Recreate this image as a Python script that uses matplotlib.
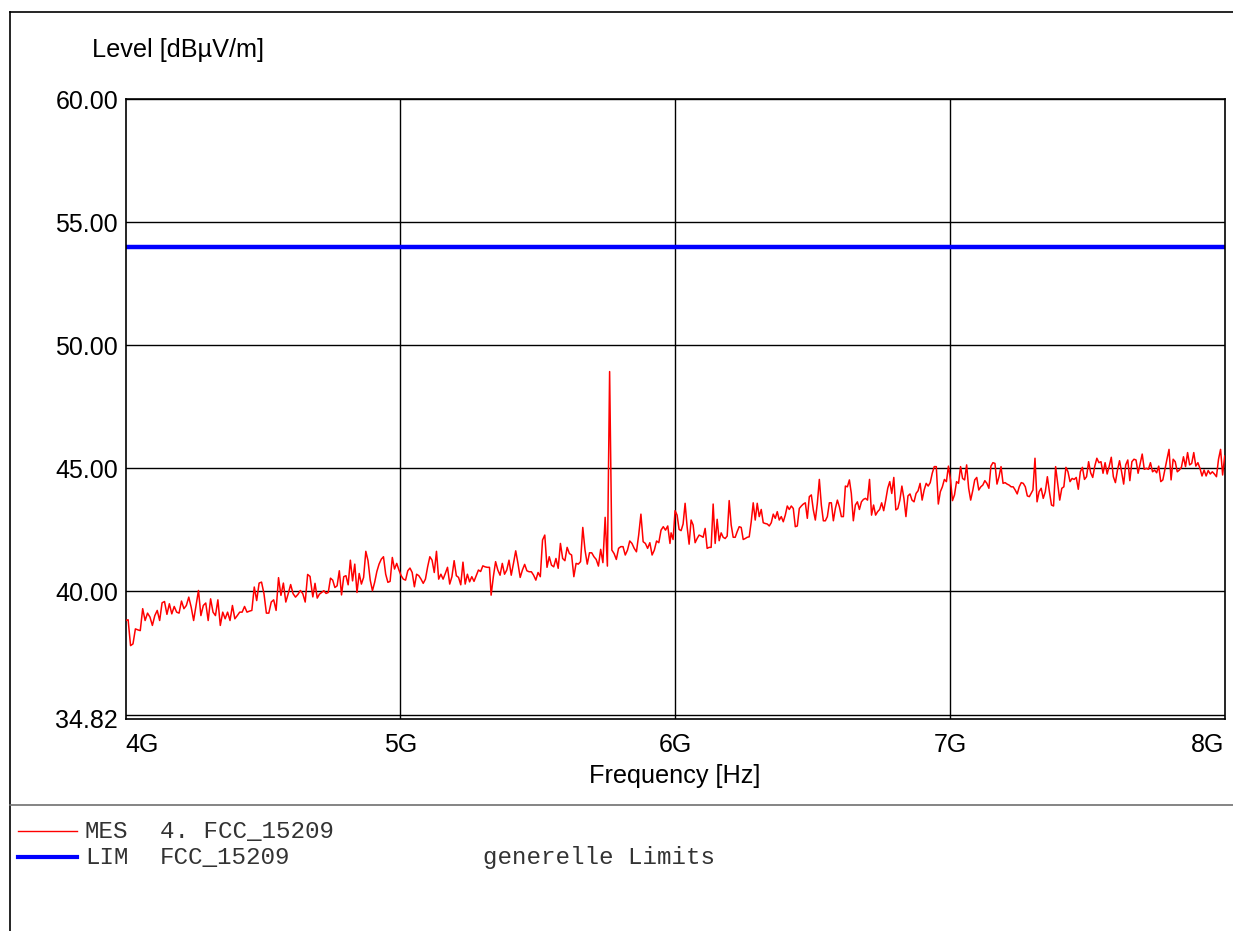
import numpy as np
import matplotlib
matplotlib.use('Agg')
import matplotlib.pyplot as plt
from matplotlib.lines import Line2D

band_start = [4.000, 4.673, 5.330, 5.985, 6.641, 7.302]  # GHz
band_stop = [4.671, 5.324, 5.981, 6.634, 7.289, 8.000]

mes_1 = [38.82, 38.85, 37.80, 37.87, 38.48, 38.44, 38.41, 39.30, 38.82, 39.12, 38.96, 38.62, 39.02, 39.23,
         38.82, 39.54, 39.59, 39.07, 39.50, 39.09, 39.39, 39.16, 39.12, 39.61, 39.30, 39.43, 39.77, 39.36,
         38.82, 39.43, 40.04, 39.02, 39.43, 39.53, 38.82, 39.70, 39.16, 39.02, 39.66, 38.62, 39.16, 38.89,
         39.16, 38.82, 39.43, 38.89, 39.02, 39.16, 39.16, 39.39, 39.16, 39.20, 39.23, 40.18, 39.63, 40.34,
         40.38, 39.91, 39.12, 39.12, 39.57, 39.66, 39.23, 40.56, 39.84, 40.34, 39.57, 39.91, 40.28, 39.91,
         39.77, 39.88, 40.04, 39.91, 39.57, 40.69, 40.61]
mes_2 = [40.43, 39.78, 40.33, 39.73, 39.89, 39.96, 40.03, 39.92, 39.96, 40.54, 40.46, 40.16, 40.23, 40.84,
         39.86, 40.60, 40.64, 40.27, 41.27, 40.43, 41.11, 39.96, 40.73, 40.30, 40.57, 41.63, 41.25, 40.46,
         40.03, 40.37, 40.81, 41.11, 41.31, 41.41, 40.70, 40.37, 40.41, 41.38, 40.91, 41.14, 40.87, 40.64,
         40.50, 40.46, 40.84, 40.95, 40.77, 40.19, 40.70, 40.64, 40.50, 40.33, 40.50, 41.00, 41.41, 41.27,
         40.77, 41.63, 40.50, 40.70, 40.50, 40.73, 40.98, 40.30, 40.60, 41.25, 40.64, 40.57, 40.27, 41.19,
         40.30, 40.70, 40.39, 40.60, 40.41, 40.64, 40.87, 40.81, 41.04, 41.00, 40.98, 40.98]
mes_3 = [39.85, 40.60, 41.21, 40.87, 40.66, 41.14, 40.70, 40.87, 41.27, 40.66, 41.14, 41.65, 41.14, 40.57,
         40.87, 41.10, 40.84, 40.80, 40.80, 40.66, 40.46, 40.77, 40.60, 42.09, 42.29, 40.98, 41.41, 41.07,
         41.00, 41.34, 40.94, 41.95, 41.34, 41.25, 41.79, 41.54, 41.48, 40.60, 41.14, 41.11, 41.21, 42.60,
         41.68, 41.11, 41.57, 41.57, 41.41, 41.30, 41.03, 41.71, 41.17, 43.01, 41.03, 48.93, 41.68, 41.54,
         41.30, 41.75, 41.82, 41.82, 41.48, 41.68, 42.05, 41.95, 41.75, 41.61, 42.29, 43.14, 42.02, 41.95,
         41.75, 41.98, 41.48, 41.68, 42.05, 41.98, 42.49, 42.63, 42.49, 42.66, 41.95]
mes_4 = [42.38, 42.11, 43.28, 43.10, 42.52, 42.47, 42.74, 43.58, 42.63, 41.92, 42.90, 42.70, 41.98, 42.15,
         42.29, 42.25, 42.20, 42.56, 41.75, 41.79, 41.79, 43.55, 41.95, 42.93, 42.06, 42.38, 42.20, 42.15,
         42.25, 43.69, 42.70, 42.20, 42.20, 42.43, 42.63, 42.60, 42.11, 42.15, 42.20, 42.22, 42.83, 43.60,
         42.90, 43.58, 43.04, 43.33, 42.79, 42.76, 42.74, 42.66, 42.79, 43.14, 42.97, 43.24, 42.90, 43.04,
         42.83, 43.10, 43.47, 43.33, 43.47, 43.37, 42.63, 42.66, 43.37, 43.47, 43.55, 43.60, 42.97, 43.85,
         43.92, 43.31, 42.90, 43.58, 44.55, 43.51, 42.87, 42.87, 43.04, 43.60, 43.60, 42.87, 43.37, 43.71,
         43.44, 43.04, 43.04, 44.28, 44.25, 44.53]
mes_5 = [43.98, 42.87, 43.51, 43.64, 43.33, 43.64, 43.74, 43.78, 43.71, 44.55, 43.10, 43.51, 43.10, 43.24,
         43.33, 43.60, 43.28, 43.71, 44.19, 44.46, 43.98, 44.63, 43.31, 43.37, 43.71, 44.28, 43.78, 43.04,
         43.88, 43.96, 43.71, 43.64, 43.98, 44.09, 44.39, 43.71, 44.12, 44.39, 44.28, 44.42, 44.80, 45.07,
         45.07, 43.55, 44.05, 44.25, 44.55, 44.46, 45.09, 44.55, 43.69, 43.92, 44.46, 44.39, 45.07, 44.59,
         44.53, 45.14, 44.19, 43.71, 44.09, 44.53, 44.63, 44.12, 44.25, 44.32, 44.50, 44.39, 44.19, 45.09,
         45.23, 45.20, 44.36, 44.66, 45.07, 44.39, 44.42, 44.36, 44.32, 44.25, 44.25, 44.12, 43.96, 44.25,
         44.42, 44.39, 44.25, 43.88, 43.85]
mes_6 = [44.12, 45.41, 43.64, 44.05, 44.19, 43.78, 44.05, 44.66, 44.05, 43.51, 43.47, 45.07, 44.39, 43.71,
         44.19, 44.25, 45.04, 44.86, 44.46, 44.59, 44.55, 44.63, 44.15, 44.86, 45.04, 44.55, 44.66, 45.27,
         44.82, 44.63, 45.09, 45.41, 45.23, 45.27, 44.80, 45.23, 44.77, 45.09, 45.45, 44.66, 44.42, 44.93,
         45.31, 44.86, 44.36, 45.14, 45.34, 44.50, 45.27, 45.37, 45.34, 44.80, 45.20, 45.58, 44.96, 45.00,
         44.96, 45.23, 44.86, 44.93, 44.82, 45.09, 44.46, 44.53, 44.96, 45.37, 45.77, 44.53, 45.37, 45.27,
         44.86, 44.93, 45.04, 45.47, 45.07, 45.64, 45.14, 45.20, 45.64, 45.09, 45.23, 45.00, 44.69, 44.93,
         44.69, 44.91, 44.77, 44.86, 44.77, 44.66, 45.37, 45.77, 44.73, 45.50]

# limit line FCC 15.209
lim_freq = [4.0, 8.0]
lim_level = [54.0, 54.0]

yticks = [34.82, 40.0, 45.0, 50.0, 55.0, 60.0]
ygrid = [35, 40, 45, 50, 55, 60]
xticks = [4, 5, 6, 7, 8]
xlabels = ['4G', '5G', '6G', '7G', '8G']

bands = [mes_1, mes_2, mes_3, mes_4, mes_5, mes_6]
freq = np.concatenate([np.linspace(a, b, len(m)) for a, b, m in zip(band_start, band_stop, bands)])
level = np.concatenate(bands)

plt.rcParams['font.family'] = ['Liberation Sans', 'DejaVu Sans']

W, H = 1233, 931
fig = plt.figure(figsize=(W / 100, H / 100), dpi=100)
ax = fig.add_axes([125.7 / W, 1 - 719 / H, 1099 / W, 620 / H])

for g in ygrid:
    ax.axhline(g, color='black', lw=1.0, zorder=1)
for g in xticks[1:-1]:
    ax.axvline(g, color='black', lw=1.0, zorder=1)

ax.plot(freq, level, color='#ff0000', lw=1.1, zorder=3)
ax.plot(lim_freq, lim_level, color='#0000ff', lw=3.2, zorder=2, solid_capstyle='butt')

ax.set_xlim(4, 8)
ax.set_ylim(34.82, 60)
ax.set_yticks(yticks)
ax.set_yticklabels(['%.2f' % v for v in yticks])
ax.set_xticks(xticks)
ax.set_xticklabels(xlabels)
ax.tick_params(length=0, labelsize=18, colors='black')
ax.tick_params(axis='y', pad=5.5)
ax.tick_params(axis='x', pad=10)
xl = ax.get_xticklabels()
xl[0].set_ha('left')
xl[-1].set_ha('right')
for s in ax.spines.values():
    s.set_linewidth(1.2)
    s.set_color('black')

fig.text(92 / W, 1 - 50 / H, 'Level [dBµV/m]', fontsize=18.2, va='center', ha='left')
fig.text(675 / W, 1 - 776 / H, 'Frequency [Hz]', fontsize=18.2, va='center', ha='center')

# outer frame and legend separator
fig.add_artist(Line2D([10 / W, 10 / W], [0, 1 - 12 / H], color='black', lw=1.2))
fig.add_artist(Line2D([10 / W, 1], [1 - 12 / H, 1 - 12 / H], color='black', lw=1.2))
fig.add_artist(Line2D([10 / W, 1], [1 - 805 / H, 1 - 805 / H], color='#707070', lw=1.2))

# legend
fig.add_artist(Line2D([18 / W, 77 / W], [1 - 831 / H, 1 - 831 / H], color='#ff0000', lw=1.0))
fig.add_artist(Line2D([18 / W, 77 / W], [1 - 857 / H, 1 - 857 / H], color='#0000ff', lw=3.0))
mono = dict(family='Liberation Mono', fontsize=17.4, color='#333333', va='baseline', ha='left')
row1, row2 = 1 - 838 / H, 1 - 864 / H
fig.text(85 / W, row1, 'MES', **mono)
fig.text(160 / W, row1, '4. FCC_15209', **mono)
fig.text(85 / W, row2, 'LIM', **mono)
fig.text(160 / W, row2, 'FCC_15209', **mono)
fig.text(483 / W, row2, 'generelle Limits', **mono)

fig.savefig('out.png', dpi=100)
